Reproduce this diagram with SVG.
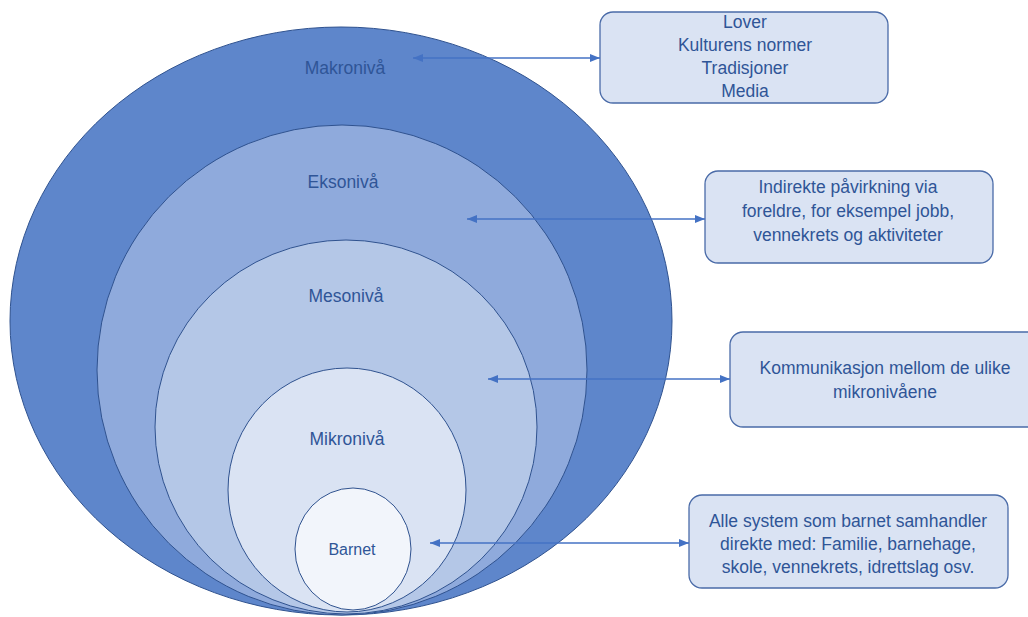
<svg xmlns="http://www.w3.org/2000/svg" width="1028" height="617" viewBox="0 0 1028 617">
  <defs>
    <marker id="ah" markerUnits="userSpaceOnUse" markerWidth="10" markerHeight="8" refX="10" refY="4" orient="auto-start-reverse">
      <path d="M0,0 L10,4 L0,8 z" fill="#4472C4"/>
    </marker>
    <style>
      .lvl { stroke: #2F528F; stroke-width: 1; }
      .box { fill: #DAE3F3; stroke: #4A6BA8; stroke-width: 1.3; }
      .t { font-family: "Liberation Sans", Arial, sans-serif; font-size: 17.5px; fill: #2F5597; text-anchor: middle; }
      .arr { stroke: #4472C4; stroke-width: 1.3; fill: none; marker-start: url(#ah); marker-end: url(#ah); }
    </style>
  </defs>
  <rect width="1028" height="617" fill="#FFFFFF"/>

  <g id="makroniva">
    <ellipse class="lvl" cx="341" cy="321" rx="331" ry="294" fill="#5E86CB"/>
    <text class="t" x="345" y="74">Makronivå</text>
  </g>
  <g id="eksoniva">
    <ellipse class="lvl" cx="342" cy="370" rx="245" ry="245" fill="#8FAADC"/>
    <text class="t" x="343" y="188">Eksonivå</text>
  </g>
  <g id="mesoniva">
    <ellipse class="lvl" cx="346" cy="427" rx="191" ry="187" fill="#B4C7E7"/>
    <text class="t" x="346" y="302">Mesonivå</text>
  </g>
  <g id="mikroniva">
    <ellipse class="lvl" cx="347" cy="490" rx="119" ry="122" fill="#DAE3F3"/>
    <text class="t" x="347" y="445">Mikronivå</text>
  </g>
  <g id="barnet">
    <ellipse class="lvl" cx="353" cy="549" rx="58" ry="61" fill="#F2F5FB"/>
    <text class="t" x="352" y="555" style="font-size:16px">Barnet</text>
  </g>

  <g id="box-makro">
    <rect class="box" x="600" y="12" width="288" height="91" rx="13"/>
    <text class="t" x="745" y="28">Lover</text>
    <text class="t" x="745" y="51">Kulturens normer</text>
    <text class="t" x="745" y="74">Tradisjoner</text>
    <text class="t" x="745" y="97">Media</text>
  </g>
  <g id="box-ekso">
    <rect class="box" x="705" y="171" width="288" height="92" rx="13"/>
    <text class="t" x="848" y="193">Indirekte påvirkning via</text>
    <text class="t" x="848" y="217">foreldre, for eksempel jobb,</text>
    <text class="t" x="848" y="241">vennekrets og aktiviteter</text>
  </g>
  <g id="box-meso">
    <rect class="box" x="730" y="332" width="312" height="95" rx="13"/>
    <text class="t" x="885" y="374">Kommunikasjon mellom de ulike</text>
    <text class="t" x="885" y="398">mikronivåene</text>
  </g>
  <g id="box-mikro">
    <rect class="box" x="689" y="495" width="319" height="93" rx="13"/>
    <text class="t" x="848" y="527">Alle system som barnet samhandler</text>
    <text class="t" x="848" y="550">direkte med: Familie, barnehage,</text>
    <text class="t" x="848" y="573">skole, vennekrets, idrettslag osv.</text>
  </g>

  <g id="connectors">
    <line class="arr" x1="413" y1="58" x2="600" y2="58"/>
    <line class="arr" x1="467" y1="219" x2="705" y2="219"/>
    <line class="arr" x1="488" y1="379" x2="730" y2="379"/>
    <line class="arr" x1="430" y1="543" x2="689" y2="543"/>
  </g>
</svg>
